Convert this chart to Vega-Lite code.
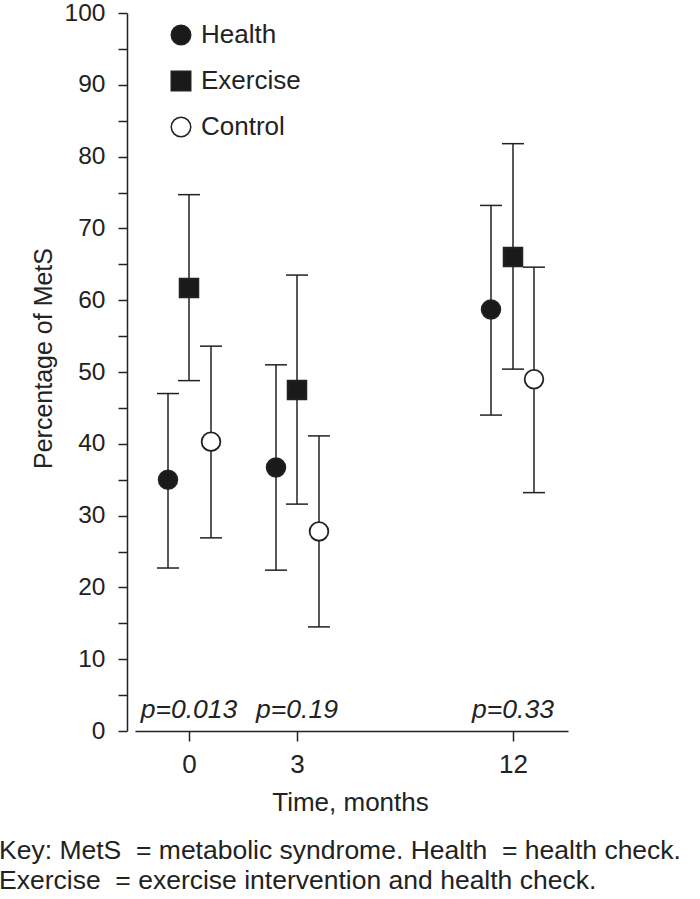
{
  "$schema": "https://vega.github.io/schema/vega-lite/v6.json",
  "width": 441,
  "height": 718,
  "autosize": "none",
  "padding": {"left": 127, "top": 13, "right": 132, "bottom": 168},
  "background": "white",
  "config": {
    "font": "Liberation Sans",
    "view": {"stroke": null},
    "axis": {
      "domainColor": "#222", "domainWidth": 1.5, "tickColor": "#222", "tickWidth": 1.5,
      "labelColor": "#222", "titleColor": "#222", "grid": false,
      "labelFont": "Liberation Sans", "titleFont": "Liberation Sans", "titleFontWeight": "normal"
    },
    "axisY": {
      "values": [0, 5, 10, 15, 20, 25, 30, 35, 40, 45, 50, 55, 60, 65, 70, 75, 80, 85, 90, 95, 100],
      "labelExpr": "datum.value % 10 === 0 ? datum.label : ''",
      "labelOverlap": false,
      "tickSize": 9, "labelPadding": 13, "labelFontSize": 24.5, "titleFontSize": 25,
      "titleX": -76, "titleY": 345, "titleAngle": -90, "titleBaseline": "alphabetic", "titleAlign": "center"
    },
    "axisX": {
      "tickSize": 10, "labelPadding": 10, "labelFontSize": 26, "titleFontSize": 26, "labelFlush": false,
      "titleX": 223, "titleY": 79, "titleBaseline": "alphabetic", "titleAlign": "center"
    }
  },
  "datasets": {
    "pts": [
      {"time": 0, "group": "Health", "value": 35.0, "lo": 22.7, "hi": 47.0},
      {"time": 0, "group": "Exercise", "value": 61.7, "lo": 48.8, "hi": 74.7},
      {"time": 0, "group": "Control", "value": 40.3, "lo": 26.9, "hi": 53.6},
      {"time": 3, "group": "Health", "value": 36.7, "lo": 22.4, "hi": 51.0},
      {"time": 3, "group": "Exercise", "value": 47.5, "lo": 31.6, "hi": 63.5},
      {"time": 3, "group": "Control", "value": 27.8, "lo": 14.5, "hi": 41.1},
      {"time": 12, "group": "Health", "value": 58.7, "lo": 44.0, "hi": 73.2},
      {"time": 12, "group": "Exercise", "value": 66.0, "lo": 50.4, "hi": 81.8},
      {"time": 12, "group": "Control", "value": 49.0, "lo": 33.2, "hi": 64.6}
    ],
    "pv": [
      {"time": 0, "p": "p=0.013"},
      {"time": 3, "p": "p=0.19"},
      {"time": 12, "p": "p=0.33"}
    ]
  },
  "layer": [
    {
      "data": {"name": "pts"},
      "transform": [{"filter": "datum.group === 'Health'"}],
      "encoding": {"x": {"field": "time", "type": "quantitative", "scale": {"domain": [0, 3, 12], "range": [41, 149, 364], "nice": false, "zero": false}, "axis": null}},
      "layer": [
        {"mark": {"type": "rule", "color": "#222", "strokeWidth": 1.5}, "encoding": {"y": {"field": "lo", "type": "quantitative", "scale": {"domain": [0, 100], "nice": false}, "title": "Percentage of MetS"}, "y2": {"field": "hi"}}},
        {"mark": {"type": "tick", "orient": "horizontal", "size": 22, "thickness": 1.5, "color": "#222", "opacity": 1}, "encoding": {"y": {"field": "lo", "type": "quantitative", "title": "Percentage of MetS"}}},
        {"mark": {"type": "tick", "orient": "horizontal", "size": 22, "thickness": 1.5, "color": "#222", "opacity": 1}, "encoding": {"y": {"field": "hi", "type": "quantitative", "title": "Percentage of MetS"}}},
        {"mark": {"type": "point", "filled": true, "size": 350, "stroke": "#222", "strokeWidth": 1.8, "opacity": 1},
         "encoding": {
           "y": {"field": "value", "type": "quantitative", "title": "Percentage of MetS"},
           "shape": {"field": "group", "type": "nominal", "scale": {"domain": ["Health", "Exercise", "Control"], "range": ["circle", "square", "circle"]}, "legend": {"title": null, "orient": "none", "legendX": 41, "legendY": 9, "labelFontSize": 26, "labelColor": "#222", "symbolSize": 380, "rowPadding": 20, "labelOffset": 7, "encode": {"symbols": {"update": {"stroke": {"value": "#222"}, "strokeWidth": {"value": 1.8}}}}}},
           "fill": {"field": "group", "type": "nominal", "scale": {"domain": ["Health", "Exercise", "Control"], "range": ["#1a1a1a", "#1a1a1a", "#ffffff"]}, "legend": {"title": null, "orient": "none", "legendX": 41, "legendY": 9, "labelFontSize": 26, "labelColor": "#222", "symbolSize": 380, "rowPadding": 20, "labelOffset": 7, "encode": {"symbols": {"update": {"stroke": {"value": "#222"}, "strokeWidth": {"value": 1.8}}}}}}
         }}
      ]
    },
    {
      "data": {"name": "pts"},
      "transform": [{"filter": "datum.group === 'Exercise'"}],
      "encoding": {"x": {"field": "time", "type": "quantitative", "scale": {"domain": [-1.5, 0, 3, 12, 14.2917], "range": [8, 62, 170, 386, 441], "nice": false, "zero": false}, "axis": {"values": [0, 3, 12], "title": "Time, months"}}},
      "layer": [
        {"mark": {"type": "rule", "color": "#222", "strokeWidth": 1.5}, "encoding": {"y": {"field": "lo", "type": "quantitative", "title": "Percentage of MetS"}, "y2": {"field": "hi"}}},
        {"mark": {"type": "tick", "orient": "horizontal", "size": 22, "thickness": 1.5, "color": "#222", "opacity": 1}, "encoding": {"y": {"field": "lo", "type": "quantitative", "title": "Percentage of MetS"}}},
        {"mark": {"type": "tick", "orient": "horizontal", "size": 22, "thickness": 1.5, "color": "#222", "opacity": 1}, "encoding": {"y": {"field": "hi", "type": "quantitative", "title": "Percentage of MetS"}}},
        {"mark": {"type": "point", "filled": true, "size": 350, "stroke": "#222", "strokeWidth": 1.8, "opacity": 1},
         "encoding": {
           "y": {"field": "value", "type": "quantitative", "title": "Percentage of MetS"},
           "shape": {"field": "group", "type": "nominal"},
           "fill": {"field": "group", "type": "nominal"}
         }}
      ]
    },
    {
      "data": {"name": "pts"},
      "transform": [{"filter": "datum.group === 'Control'"}],
      "encoding": {"x": {"field": "time", "type": "quantitative", "scale": {"domain": [0, 3, 12], "range": [84, 192, 407], "nice": false, "zero": false}, "axis": null}},
      "layer": [
        {"mark": {"type": "rule", "color": "#222", "strokeWidth": 1.5}, "encoding": {"y": {"field": "lo", "type": "quantitative", "title": "Percentage of MetS"}, "y2": {"field": "hi"}}},
        {"mark": {"type": "tick", "orient": "horizontal", "size": 22, "thickness": 1.5, "color": "#222", "opacity": 1}, "encoding": {"y": {"field": "lo", "type": "quantitative", "title": "Percentage of MetS"}}},
        {"mark": {"type": "tick", "orient": "horizontal", "size": 22, "thickness": 1.5, "color": "#222", "opacity": 1}, "encoding": {"y": {"field": "hi", "type": "quantitative", "title": "Percentage of MetS"}}},
        {"mark": {"type": "point", "filled": true, "size": 350, "stroke": "#222", "strokeWidth": 1.8, "opacity": 1},
         "encoding": {
           "y": {"field": "value", "type": "quantitative", "title": "Percentage of MetS"},
           "shape": {"field": "group", "type": "nominal"},
           "fill": {"field": "group", "type": "nominal"}
         }}
      ]
    },
    {
      "data": {"name": "pv"},
      "mark": {"type": "text", "fontStyle": "italic", "fontSize": 26.5, "baseline": "alphabetic", "align": "center", "color": "#222"},
      "encoding": {
        "x": {"field": "time", "type": "quantitative", "scale": {"domain": [-1.5, 0, 3, 12, 14.2917], "range": [8, 62, 170, 386, 441], "nice": false, "zero": false}, "axis": null},
        "y": {"datum": 1.8, "type": "quantitative", "title": "Percentage of MetS"},
        "text": {"field": "p"}
      }
    }
  ],
  "resolve": {"scale": {"x": "independent"}, "axis": {"x": "independent"}},
  "title": {
    "text": ["Key: MetS\u00a0 = metabolic syndrome. Health\u00a0 = health check.", "Exercise\u00a0 = exercise intervention and health check."],
    "orient": "bottom", "anchor": "start", "frame": "bounds",
    "fontSize": 26.5, "fontWeight": "normal", "color": "#222", "lineHeight": 30,
    "offset": 23, "dx": -32
  }
}
